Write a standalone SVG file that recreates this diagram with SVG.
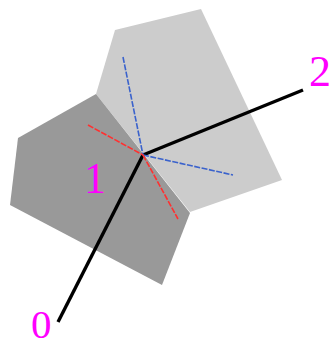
<svg xmlns="http://www.w3.org/2000/svg" width="331" height="347" viewBox="0 0 331 347">
<style>
text{font-family:"Liberation Serif","Times New Roman",serif;font-size:44px;fill:#ff00ff}
.small{font-size:41px}
.axis{fill:none;stroke:#000;stroke-width:3.4}
.dash{fill:none;stroke-width:1.6;stroke-dasharray:6 1.5}
.blue{stroke:#3a62cc}
.red{stroke:#ff3030}
</style>
<rect width="331" height="347" fill="#fff"/>
<g id="face-light"><polygon points="115,30 201,9 282,180 190,212 96,94" fill="#cccccc"/></g>
<g id="face-dark"><polygon points="96,94 190,213 162,285 10,205 18,138" fill="#999999"/></g>
<g id="connectors">
<line class="axis" x1="58" y1="322" x2="143" y2="155"/>
<line class="axis" x1="143" y1="155" x2="303" y2="90"/>
<line class="dash blue" x1="123" y1="57" x2="143" y2="155"/>
<line class="dash blue" x1="143" y1="155" x2="233" y2="175"/>
<line class="dash red" x1="88" y1="125" x2="143" y2="155"/>
<line class="dash red" x1="143" y1="155" x2="178" y2="219"/>
</g>
<g id="label-0"><text class="small" x="31" y="338">0</text></g>
<g id="label-1"><text x="84" y="193">1</text></g>
<g id="label-2"><text x="309" y="86">2</text></g>
</svg>
